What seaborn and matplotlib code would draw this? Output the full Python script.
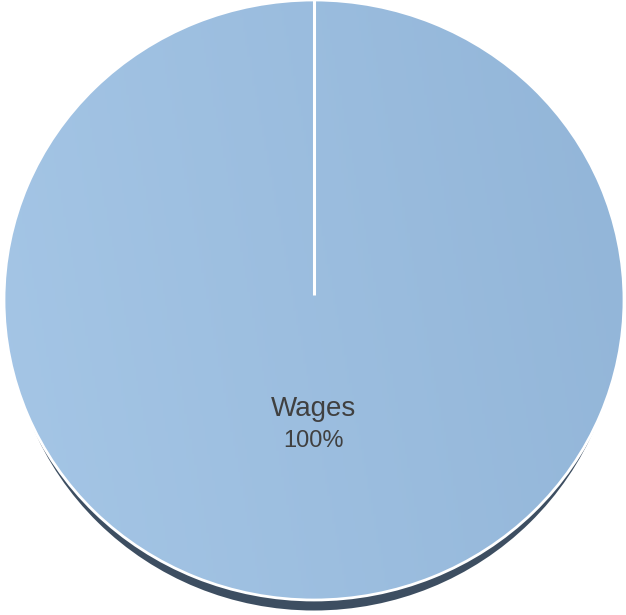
import numpy as np
import matplotlib
matplotlib.use("Agg")
import matplotlib.pyplot as plt
import matplotlib.patches as mpatches
from matplotlib.colors import LinearSegmentedColormap
import seaborn as sns

# ---- data ----
categories = ["Wages"]
values = [100]
pct_labels = ["100%"]

sns.set_theme(style="white")
plt.rcParams['font.family'] = ['Liberation Sans', 'DejaVu Sans']

W, H = 626, 615
fig = plt.figure(figsize=(W / 100, H / 100), dpi=100)
ax = fig.add_axes([0, 0, 1, 1])

# pixel geometry of the pie (center cx, cy from top; radii rx, ry)
cx, cy, rx, ry = 314, 300, 310, 300

# shadow below the pie
shadow = mpatches.Ellipse((0, -0.035), 2 * 0.985, 2.0, facecolor="#3d4e61",
                          edgecolor="none", zorder=0)
ax.add_patch(shadow)

wedges, texts, autotexts = ax.pie(
    values, labels=categories, startangle=90, counterclock=False,
    autopct=lambda p: f"{p:.0f}%", labeldistance=0.387, pctdistance=0.49,
    radius=1.0, center=(0, 0),
    wedgeprops=dict(edgecolor="white", linewidth=2.0),
    textprops=dict(color="#404040"),
)

# gradient fill clipped to the pie
cmap = LinearSegmentedColormap.from_list("g", ["#a5c6e6", "#92b5d8"])
gx = np.linspace(0, 1, 256)
gy = np.linspace(0, 1, 256)
GX, GY = np.meshgrid(gx, gy)
grad = 0.85 * GX + 0.15 * (1 - GY)
for w in wedges:
    w.set_facecolor("none")
    w.set_zorder(3)
    im = ax.imshow(grad, cmap=cmap, extent=(-1, 1, -1, 1), origin="upper",
                   aspect="auto", zorder=2, interpolation="bilinear")
    clip = mpatches.Ellipse((0, 0), 2, 2, transform=ax.transData)
    im.set_clip_path(clip)

# white separator from center to the top (start of the slice)
ax.plot([0, 0], [0.017, 1.0], color="white", lw=2.2, zorder=4,
        solid_capstyle="butt")

for t in texts:
    t.set_ha("center")
    t.set_va("baseline")
    t.set_fontsize(20)
    t.set_zorder(5)
for t in autotexts:
    t.set_ha("center")
    t.set_va("baseline")
    t.set_fontsize(17)
    t.set_color("#404040")
    t.set_zorder(5)

ax.set_aspect("auto")
ax.set_xlim((0 - cx) / rx, (W - cx) / rx)
ax.set_ylim((cy - H) / ry, (cy - 0) / ry)
ax.axis("off")

fig.savefig("out.png", dpi=100)
